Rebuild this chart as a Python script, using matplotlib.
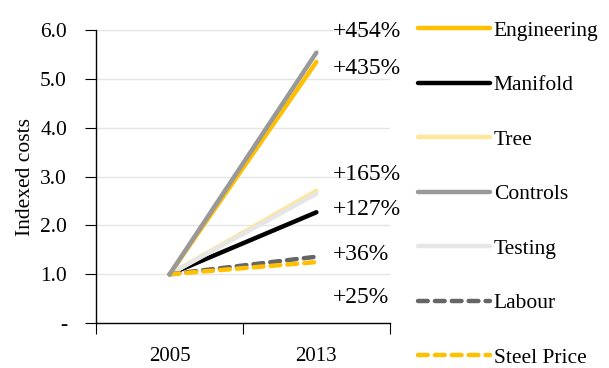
import matplotlib
matplotlib.use("Agg")
import matplotlib.pyplot as plt

plt.rcParams['font.family'] = ['Liberation Serif', 'DejaVu Serif']

years = ["2005", "2013"]
series_names = ["Engineering", "Manifold", "Tree", "Controls", "Testing", "Labour", "Steel Price"]
engineering = [1.0, 5.35]
manifold = [1.0, 2.27]
tree = [1.0, 2.71]
controls = [1.0, 5.54]
testing = [1.0, 2.65]
labour = [1.0, 1.36]
steel_price = [1.0, 1.25]
y_ticks = [0, 1, 2, 3, 4, 5, 6]
y_tick_labels = ["-", "1.0", "2.0", "3.0", "4.0", "5.0", "6.0"]

# which series get a growth label, and where the label sits vertically
labelled = ["Controls", "Engineering", "Testing", "Manifold", "Labour", "Steel Price"]
label_pos = [5.97, 5.22, 3.04, 2.33, 1.40, 0.53]

values = dict(zip(series_names, [engineering, manifold, tree, controls, testing, labour, steel_price]))
styles = {
    "Engineering": dict(color="#FFC000", ls="-"),
    "Manifold": dict(color="#000000", ls="-"),
    "Tree": dict(color="#FFE699", ls="-"),
    "Controls": dict(color="#999999", ls="-"),
    "Testing": dict(color="#E6E6E6", ls="-"),
    "Labour": dict(color="#666666", ls=(0, (2.2, 1.6))),
    "Steel Price": dict(color="#FFC000", ls=(0, (2.2, 1.6))),
}

fig = plt.figure(figsize=(6.09, 3.68), dpi=100)
ax = fig.add_axes([0.158, 0.122, 0.482, 0.796])

x = list(range(len(years)))
handles = []
for name in series_names:
    st = styles[name]
    ln, = ax.plot(x, values[name], color=st["color"], linestyle=st["ls"], lw=3.2,
                  solid_capstyle="round", dash_capstyle="round", label=name)
    handles.append(ln)

# keep the grey Controls line above the yellow Engineering line
for h in handles:
    if h.get_label() == "Controls":
        h.set_zorder(3)

ax.set_xlim(-0.5, 1.5)
ax.set_ylim(0, 6)
ax.set_yticks(y_ticks)
ax.set_yticklabels(y_tick_labels, fontsize=15.5)
ax.set_xticks([-0.5, 0.5, 1.5])
ax.set_xticklabels([])
ax.set_xticks(x, minor=True)
ax.set_xticklabels(years, minor=True, fontsize=15)
ax.tick_params(axis="x", which="major", length=8, direction="out", width=0.8)
ax.tick_params(axis="x", which="minor", length=0, pad=17)
ax.tick_params(axis="y", length=8, direction="out", width=0.8, pad=13)

ax.grid(axis="y", color="#E5E5E5", lw=1)
ax.set_axisbelow(True)
for s in ("top", "right"):
    ax.spines[s].set_visible(False)
ax.spines["left"].set_linewidth(1)
ax.spines["bottom"].set_linewidth(1)
ax.set_ylabel("Indexed costs", fontsize=15.5, labelpad=4)

for name, ypos in zip(labelled, label_pos):
    v = values[name][-1]
    pct = round((v - values[name][0]) * 100)
    ax.text(1.11, ypos, f"+{pct}%", fontsize=17, ha="left", va="center", clip_on=False)

fig.legend(handles=handles, loc="upper left", bbox_to_anchor=(0.673, 0.967),
           frameon=False, fontsize=15.5, handlelength=3.3, handletextpad=0.2,
           labelspacing=1.6, borderaxespad=0)

fig.savefig("out.png", dpi=100)
